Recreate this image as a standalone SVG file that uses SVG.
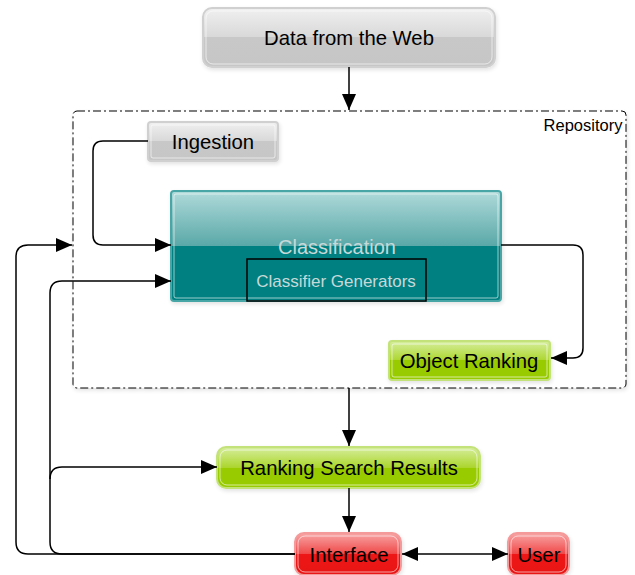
<svg xmlns="http://www.w3.org/2000/svg" width="635" height="575" viewBox="0 0 635 575">
<defs>
<linearGradient id="gGray" x1="0" y1="0" x2="0" y2="1">
<stop offset="0" stop-color="#f0f0f0"/><stop offset="0.5" stop-color="#d8d8d8"/><stop offset="0.5" stop-color="#c8c8c8"/><stop offset="1" stop-color="#c6c6c6"/>
</linearGradient>
<linearGradient id="gTeal" x1="0" y1="0" x2="0" y2="1">
<stop offset="0" stop-color="#b0dada"/><stop offset="0.5" stop-color="#5aa8a8"/><stop offset="0.5" stop-color="#008080"/><stop offset="1" stop-color="#008080"/>
</linearGradient>
<linearGradient id="gGreen" x1="0" y1="0" x2="0" y2="1">
<stop offset="0" stop-color="#d6ee9e"/><stop offset="0.5" stop-color="#acd62e"/><stop offset="0.5" stop-color="#99cc00"/><stop offset="1" stop-color="#99cc00"/>
</linearGradient>
<linearGradient id="gRed" x1="0" y1="0" x2="0" y2="1">
<stop offset="0" stop-color="#f8a6a6"/><stop offset="0.5" stop-color="#f04848"/><stop offset="0.5" stop-color="#ee1515"/><stop offset="1" stop-color="#e81212"/>
</linearGradient>
<filter id="sh" x="-10%" y="-10%" width="120%" height="130%">
<feGaussianBlur in="SourceAlpha" stdDeviation="2"/><feOffset dx="1" dy="2"/><feComponentTransfer><feFuncA type="linear" slope="0.12"/></feComponentTransfer><feMerge><feMergeNode/><feMergeNode in="SourceGraphic"/></feMerge>
</filter>
<marker id="arr" markerUnits="userSpaceOnUse" markerWidth="16" markerHeight="14" refX="16" refY="7" orient="auto-start-reverse">
<path d="M0,0 L16,7 L0,14 z" fill="#000"/>
</marker>
</defs>
<style>
text{font-family:"Liberation Sans",Arial,sans-serif;text-anchor:middle;dominant-baseline:central}
.lbl{font-size:20.3px;fill:#000}
.conn{fill:none;stroke:#000;stroke-width:1.5}
.in{fill:none;stroke:#fff;stroke-opacity:0.6;stroke-width:1}
</style>

<g id="repository">
<rect x="73" y="111" width="553" height="277" rx="4" fill="#fff" filter="url(#sh)" stroke="#000" stroke-width="1" stroke-dasharray="8,3,2,3"/>
<text x="583" y="125" style="font-size:16.5px">Repository</text>
</g>

<g id="data-from-web">
<rect x="203" y="8" width="292" height="59" rx="9" fill="url(#gGray)" stroke="#d0d0d0" stroke-width="2" filter="url(#sh)"/>
<rect x="206" y="11" width="286" height="53" rx="7" class="in"/>
<text x="349" y="38" class="lbl">Data from the Web</text>
</g>

<g id="ingestion">
<rect x="148" y="122" width="130" height="39" rx="3" fill="url(#gGray)" stroke="#d0d0d0" stroke-width="2" filter="url(#sh)"/>
<rect x="151" y="125" width="124" height="33" rx="2" class="in"/>
<text x="213" y="142" class="lbl">Ingestion</text>
</g>

<g id="classification">
<rect x="171" y="191" width="330" height="110" rx="3" fill="url(#gTeal)" stroke="#4aa6a6" stroke-width="2" filter="url(#sh)"/>
<rect x="174" y="194" width="324" height="104" rx="2" class="in"/>
<text x="337" y="247" style="font-size:20px;fill:#c6d9d9">Classification</text>
<rect x="247" y="259" width="179" height="42" fill="none" stroke="#000" stroke-width="1.5"/>
<text x="336" y="281" style="font-size:17px;fill:#c6d9d9">Classifier Generators</text>
</g>

<g id="object-ranking">
<rect x="389" y="341" width="161" height="39" rx="3" fill="url(#gGreen)" stroke="#c4e27a" stroke-width="2" filter="url(#sh)"/>
<rect x="392" y="344" width="155" height="33" rx="2" class="in"/>
<text x="469" y="361" class="lbl">Object Ranking</text>
</g>

<g id="ranking-search-results">
<rect x="217" y="447" width="263" height="41" rx="9" fill="url(#gGreen)" stroke="#c4e27a" stroke-width="2" filter="url(#sh)"/>
<rect x="220" y="450" width="257" height="35" rx="7" class="in"/>
<text x="349" y="468" class="lbl">Ranking Search Results</text>
</g>

<g id="interface">
<rect x="295" y="533" width="106" height="42" rx="9" fill="url(#gRed)" stroke="#f49a9a" stroke-width="2" filter="url(#sh)"/>
<rect x="298" y="536" width="100" height="36" rx="7" class="in"/>
<text x="349" y="555" class="lbl">Interface</text>
</g>

<g id="user">
<rect x="508" y="533" width="61" height="42" rx="9" fill="url(#gRed)" stroke="#f49a9a" stroke-width="2" filter="url(#sh)"/>
<rect x="511" y="536" width="55" height="36" rx="7" class="in"/>
<text x="539" y="555" class="lbl">User</text>
</g>

<g id="connectors">
<path class="conn" d="M349,67 L349,110" marker-end="url(#arr)"/>
<path class="conn" d="M148,141 L103,141 Q93,141 93,151 L93,235 Q93,245 103,245 L171,245" marker-end="url(#arr)"/>
<path class="conn" d="M501,245 L573,245 Q583,245 583,255 L583,348 Q583,358 573,358 L551,358" marker-end="url(#arr)"/>
<path class="conn" d="M349,388 L349,446" marker-end="url(#arr)"/>
<path class="conn" d="M349,488 L349,532" marker-end="url(#arr)"/>
<path class="conn" d="M402,554 L508,554" marker-start="url(#arr)" marker-end="url(#arr)"/>
<path class="conn" d="M295,554 L28,554 Q16,554 16,542 L16,257 Q16,245 28,245 L72,245" marker-end="url(#arr)"/>
<path class="conn" d="M295,554 L62,554 Q50,554 50,542 L50,293 Q50,281 62,281 L171,281" marker-end="url(#arr)"/>
<path class="conn" d="M50,479 Q50,467 62,467 L217,467" marker-end="url(#arr)"/>
</g>
</svg>
